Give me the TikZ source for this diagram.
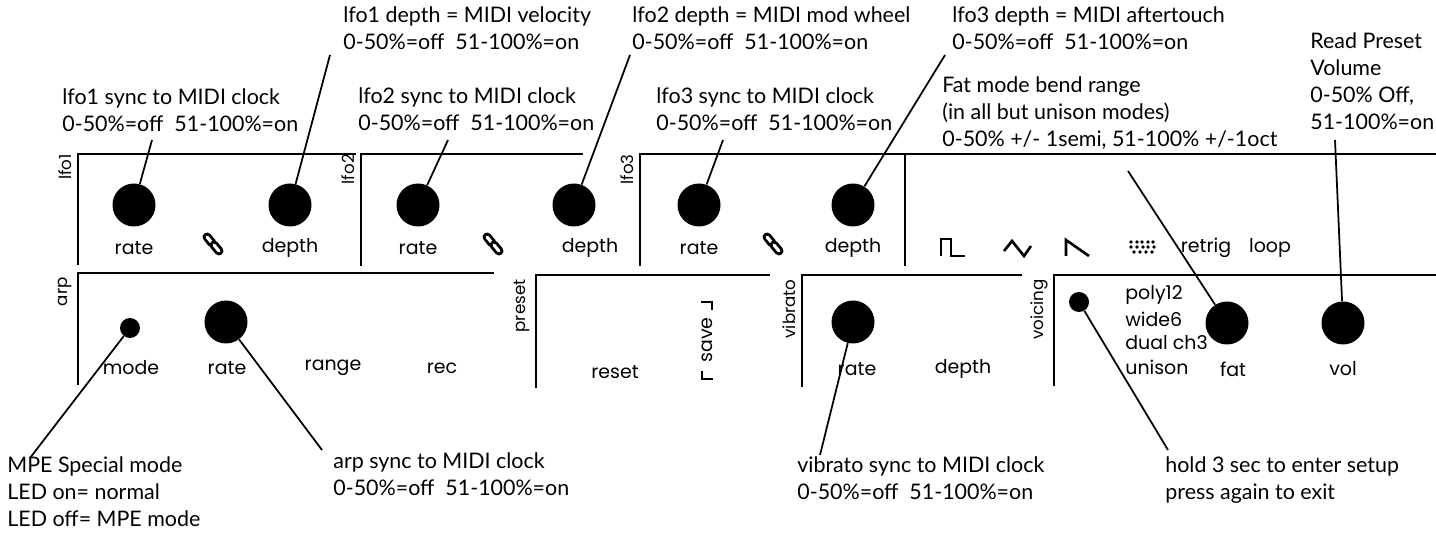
\documentclass[tikz,border=0pt]{standalone}
\usepackage{fontspec}
\setmainfont{Lato}
\newfontfamily\panelfont{Poppins}
\usetikzlibrary{shapes.geometric}
\begin{document}
\begin{tikzpicture}[x=0.02cm,y=-0.02cm,
  frame/.style={line width=1.6pt},
  knob/.style={circle,fill=black,minimum size=43*0.02cm,inner sep=0},
  led/.style={circle,fill=black,minimum size=20*0.02cm,inner sep=0},
  plab/.style={font=\panelfont\fontsize{10.8}{12}\selectfont,inner sep=0},
  sec/.style={font=\panelfont\fontsize{9.5}{11}\selectfont,rotate=90,anchor=south east,inner sep=0},
  ann/.style={font=\fontsize{12.2}{15.5}\selectfont,align=left,anchor=north west,inner sep=0},
  lead/.style={line width=1pt}]
\useasboundingbox (0,0) rectangle (1436,533);
% frames
\draw[frame] (78,265)--(78,154)--(356,154);
\draw[frame] (361,266)--(361,154)--(583,154);
\draw[frame] (640,266)--(640,154)--(1436,154);
\draw[frame] (905,154)--(905,266);
\draw[frame] (78,385)--(78,273)--(494,273);
\draw[frame] (536,388)--(536,275)--(770,275);
\draw[frame] (802,387)--(802,275)--(1022,275);
\draw[frame] (1054,386)--(1054,275)--(1436,275);
% section labels
\node[sec] (s1) at (72,154) {lfo1};
\node[sec] (s2) at (355,154) {lfo2};
\node[sec] (s3) at (634,154) {lfo3};
\node[sec] (s4) at (72,277) {arp};
\node[sec] (s5) at (530,279) {preset};
\node[sec] (s6) at (796,279) {vibrato};
\node[sec] (s7) at (1048,279) {voicing};
% knobs
\node[knob] (k1) at (134,205) {};
\node[knob] (k2) at (290,205) {};
\node[knob] (k3) at (418,205) {};
\node[knob] (k4) at (574,205) {};
\node[knob] (k5) at (699,205) {};
\node[knob] (k6) at (853,205) {};
\node[knob] (k7) at (226,322) {};
\node[knob] (k8) at (853,322) {};
\node[knob] (k9) at (1227,323) {};
\node[knob] (k10) at (1343,323) {};
\node[led] (l1) at (130,328) {};
\node[led] (l2) at (1079,302) {};
% panel labels
\node[plab] (t1) at (134,248) {rate};
\node[plab] (t2) at (290,248) {depth};
\node[plab] (t3) at (418,248) {rate};
\node[plab] (t4) at (590,248) {depth};
\node[plab] (t5) at (699,248) {rate};
\node[plab] (t6) at (853,248) {depth};
\node[plab] (t7) at (131,368) {mode};
\node[plab] (t8) at (227,368) {rate};
\node[plab] (t9) at (333,368) {range};
\node[plab] (t10) at (442,368) {rec};
\node[plab] (t11) at (615,372) {reset};
\node[plab,rotate=90] (t12) at (707,340) {save};
\node[plab] (t13) at (857,369) {rate};
\node[plab] (t14) at (963,369) {depth};
\node[plab] (t15) at (1206,248) {retrig};
\node[plab] (t16) at (1270,248) {loop};
\node[plab,anchor=west] (t17) at (1125,295) {poly12};
\node[plab,anchor=west] (t18) at (1125,319) {wide6};
\node[plab,anchor=west] (t19) at (1125,343) {dual ch3};
\node[plab,anchor=west] (t20) at (1125,367) {unison};
\node[plab] (t21) at (1233,369) {fat};
\node[plab] (t22) at (1343,369) {vol};
% save brackets
\draw[line width=1.2pt] (701,302)--(712,302)--(712,310);
\draw[line width=1.2pt] (702,371)--(702,379)--(713,379);
% link icons
\foreach \x in {213,493,773}{
  \draw[line width=5.1pt,line cap=round] (\x-6,237)--(\x-1,243);
  \draw[line width=1.8pt,line cap=round,white] (\x-6,237)--(\x-1,243);
  \draw[line width=5.1pt,line cap=round] (\x+1,245)--(\x+6,251);
  \draw[line width=1.8pt,line cap=round,white] (\x+1,245)--(\x+6,251);
}
% waveforms
\draw[line width=1.5pt] (941,256)--(941,239)--(951,239)--(951,256)--(965,256);
\draw[line width=1.5pt] (1004,251)--(1012,241)--(1024,256)--(1031,246);
\draw[line width=1.5pt] (1066,256)--(1066,240)--(1089,256);
\foreach \dx/\dy in {0/0,6/0,11/0,17/0,22/0,0/5,6/5,12/5,17/5,23/5,3/10,9/10,15/10,21/10}
  \fill (1131+\dx,242+\dy) circle (1.8);
% annotations
\node[ann] (a1) at (62,88) {lfo1 sync to MIDI clock\\0-50\%=off\ \ 51-100\%=on};
\node[ann] (a2) at (343,6) {lfo1 depth = MIDI velocity\\0-50\%=off\ \ 51-100\%=on};
\node[ann] (a3) at (358,87) {lfo2 sync to MIDI clock\\0-50\%=off\ \ 51-100\%=on};
\node[ann] (a4) at (632,6) {lfo2 depth = MIDI mod wheel\\0-50\%=off\ \ 51-100\%=on};
\node[ann] (a5) at (656,87) {lfo3 sync to MIDI clock\\0-50\%=off\ \ 51-100\%=on};
\node[ann] (a6) at (952,6) {lfo3 depth = MIDI aftertouch\\0-50\%=off\ \ 51-100\%=on};
\node[ann] (a7) at (942,76) {Fat mode bend range\\(in all but unison modes)\\0-50\% +/- 1semi, 51-100\% +/-1oct};
\node[ann] (a8) at (1310,32) {Read Preset\\Volume\\0-50\% Off,\\51-100\%=on};
\node[ann] (a9) at (7,456) {MPE Special mode\\LED on= normal\\LED off= MPE mode};
\node[ann] (a10) at (333,452) {arp sync to MIDI clock\\0-50\%=off\ \ 51-100\%=on};
\node[ann] (a11) at (797,456) {vibrato sync to MIDI clock\\0-50\%=off\ \ 51-100\%=on};
\node[ann] (a12) at (1165,456) {hold 3 sec to enter setup\\press again to exit};
% leader ends
\coordinate (c1) at (152,140);
\coordinate (c2) at (330,55);
\coordinate (c3) at (448,140);
\coordinate (c4) at (630,55);
\coordinate (c5) at (723,140);
\coordinate (c6) at (945,55);
\coordinate (c7) at (1128,171);
\coordinate (c8) at (1335,140);
\coordinate (c9) at (30,458);
\coordinate (c10) at (322,450);
\coordinate (c11) at (820,455);
\coordinate (c12) at (1168,450);
\draw[lead] (c1)--(k1);
\draw[lead] (c2)--(k2);
\draw[lead] (c3)--(k3);
\draw[lead] (c4)--(k4);
\draw[lead] (c5)--(k5);
\draw[lead] (c6)--(k6);
\draw[lead] (c7)--(k9);
\draw[lead] (c8)--(k10);
\draw[lead] (c9)--(l1);
\draw[lead] (c10)--(k7);
\draw[lead] (c11)--(k8);
\draw[lead] (c12)--(l2);
\end{tikzpicture}
\end{document}
